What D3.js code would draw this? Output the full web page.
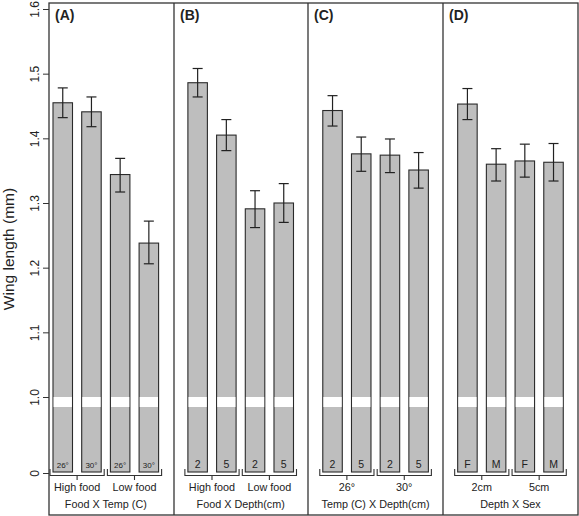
<!DOCTYPE html>
<html><head><meta charset="utf-8">
<script src="https://cdn.jsdelivr.net/npm/d3@7"></script>
<style>body{margin:0;background:#fff}svg{display:block;font-family:"Liberation Sans",Arial,sans-serif}</style>
</head><body><svg id="c" width="579" height="516"></svg>
<script>
const panelLetters = ["(A)", "(B)", "(C)", "(D)"];
const panelTitles = ["Food X Temp (C)", "Food X Depth(cm)", "Temp (C) X Depth(cm)", "Depth X Sex"];
const groupLabels = [["High food", "Low food"], ["High food", "Low food"], ["26°", "30°"], ["2cm", "5cm"]];
const barLabels = [["26°", "30°", "26°", "30°"], ["2", "5", "2", "5"], ["2", "5", "2", "5"], ["F", "M", "F", "M"]];
const means = [[1.455, 1.441, 1.344, 1.238], [1.486, 1.405, 1.291, 1.300], [1.443, 1.376, 1.374, 1.351], [1.453, 1.360, 1.365, 1.363]];
const upper = [[1.478, 1.464, 1.369, 1.272], [1.508, 1.429, 1.319, 1.330], [1.466, 1.402, 1.399, 1.378], [1.477, 1.384, 1.391, 1.392]];
const lower = [[1.432, 1.418, 1.317, 1.206], [1.464, 1.381, 1.262, 1.270], [1.419, 1.349, 1.347, 1.323], [1.429, 1.334, 1.340, 1.334]];
const yTicks = [0, 1.0, 1.1, 1.2, 1.3, 1.4, 1.5, 1.6];
const yTickLabels = ["0", "1.0", "1.1", "1.2", "1.3", "1.4", "1.5", "1.6"];
const yTitle = "Wing length (mm)";

const svg = d3.select("#c");
const y = d3.scaleLinear().domain([0, 1.0, 1.6]).range([473, 397, 9]);
const slot = d3.scaleLinear().domain([0, 1]).range([53, 81.7]);
const panelStep = 4.7, barW = 19.5;
const frame = {l: 49, t: 3, r: 578, b: 515};
const dividers = [174, 308, 443];
const barX = (p, i) => slot(p * panelStep + i);

svg.append("rect").attr("x", frame.l).attr("y", frame.t).attr("width", frame.r - frame.l).attr("height", frame.b - frame.t)
  .attr("fill", "none").attr("stroke", "#333").attr("stroke-width", 1.3);
dividers.forEach(d => svg.append("line").attr("x1", d).attr("x2", d).attr("y1", frame.t).attr("y2", frame.b)
  .attr("stroke", "#333").attr("stroke-width", 1.3));

const ax = svg.append("g").attr("transform", `translate(${frame.l},0)`)
  .call(d3.axisLeft(y).tickValues(yTicks).tickFormat((d, i) => yTickLabels[i]).tickSize(6).tickSizeOuter(0));
ax.select(".domain").remove();
ax.selectAll("line").attr("stroke", "#333");
ax.selectAll("text").attr("transform", "rotate(-90)").attr("x", 0).attr("y", -10.5).attr("dy", 0)
  .attr("text-anchor", "middle").attr("font-size", 12).attr("fill", "#222").style("font-family", "Liberation Sans, Arial, sans-serif");
svg.append("text").attr("transform", `translate(14,249) rotate(-90)`).attr("text-anchor", "middle")
  .attr("font-size", 15.5).attr("fill", "#222").text(yTitle);

means.forEach((vals, p) => {
  const g = svg.append("g");
  vals.forEach((v, i) => {
    const x0 = barX(p, i), cx = x0 + barW / 2;
    g.append("rect").attr("x", x0).attr("y", y(v)).attr("width", barW).attr("height", y(0) - y(v) - 1)
      .attr("fill", "#bebebe").attr("stroke", "#2a2a2a").attr("stroke-width", 1.1);
    g.append("rect").attr("x", x0 + 0.6).attr("y", y(1.0)).attr("width", barW - 1.2).attr("height", 10)
      .attr("fill", "#fff");
    g.append("line").attr("x1", cx).attr("x2", cx).attr("y1", y(upper[p][i])).attr("y2", y(lower[p][i]))
      .attr("stroke", "#222").attr("stroke-width", 1.2);
    [upper[p][i], lower[p][i]].forEach(e => g.append("line").attr("x1", cx - 5).attr("x2", cx + 5)
      .attr("y1", y(e)).attr("y2", y(e)).attr("stroke", "#222").attr("stroke-width", 1.2));
    const lab = barLabels[p][i];
    g.append("text").attr("x", cx).attr("y", 468).attr("text-anchor", "middle")
      .attr("font-size", lab.length > 1 ? 8 : 10.5).attr("fill", "#222").text(lab);
  });
  groupLabels[p].forEach((gl, k) => {
    const l = barX(p, 2 * k) - 3, r = barX(p, 2 * k + 1) + barW + 3, c = (l + r) / 2;
    g.append("path").attr("d", `M${l},469V475.5H${r}V469M${c},475.5V480`)
      .attr("fill", "none").attr("stroke", "#333").attr("stroke-width", 1.1);
    g.append("text").attr("x", c).attr("y", 491).attr("text-anchor", "middle").attr("font-size", 10.8)
      .attr("fill", "#222").text(gl);
  });
  const pc = (barX(p, 0) + barX(p, 3) + barW) / 2;
  g.append("text").attr("x", pc).attr("y", 508).attr("text-anchor", "middle").attr("font-size", 10.8)
    .attr("fill", "#222").text(panelTitles[p]);
  const pl = p === 0 ? frame.l : dividers[p - 1];
  g.append("text").attr("x", pl + 6).attr("y", 20).attr("font-size", 14).attr("font-weight", "bold")
    .attr("fill", "#222").text(panelLetters[p]);
});
</script></body></html>
